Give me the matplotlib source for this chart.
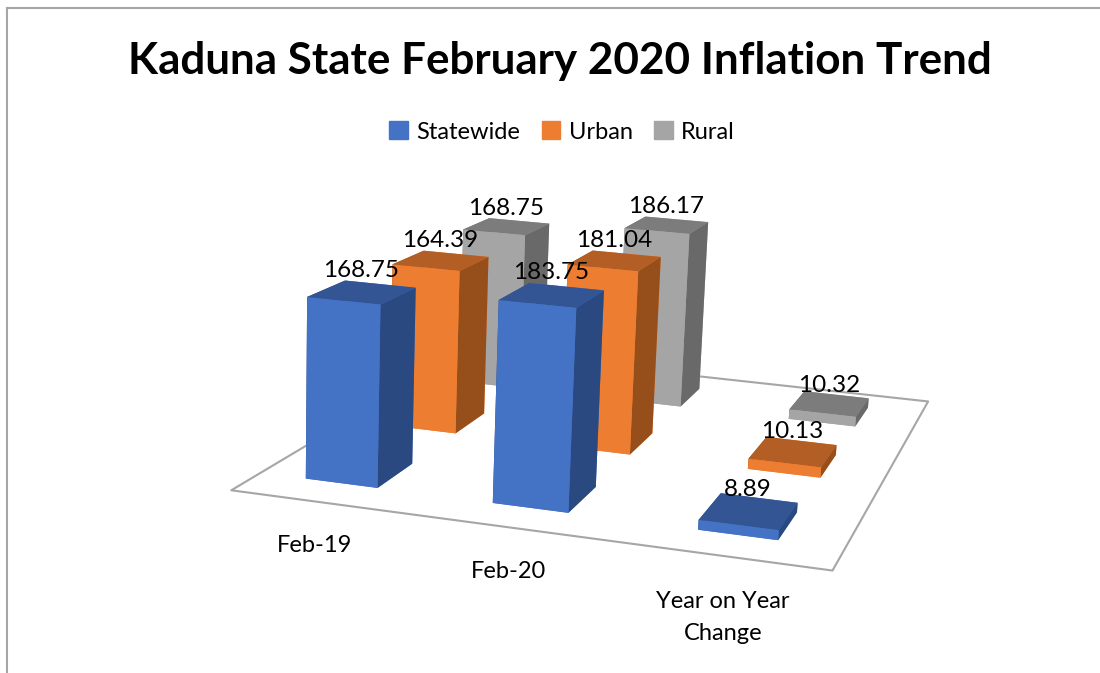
import matplotlib
matplotlib.use("Agg")
import matplotlib.pyplot as plt
from matplotlib.lines import Line2D
from matplotlib.patches import Patch
from mpl_toolkits.mplot3d.art3d import Poly3DCollection

plt.rcParams['font.family'] = ['Lato', 'DejaVu Sans']

categories = ["Feb-19", "Feb-20", "Year on Year\nChange"]
series = ["Statewide", "Urban", "Rural"]
statewide = [168.75, 183.75, 8.89]
urban = [164.39, 181.04, 10.13]
rural = [168.75, 186.17, 10.32]

# front, top, side
colors = {
    "Statewide": ("#4472C4", "#335593", "#2A4980"),
    "Urban": ("#ED7D31", "#B25E24", "#964F1B"),
    "Rural": ("#A5A5A5", "#7C7C7C", "#696969"),
}
values = {"Statewide": statewide, "Urban": urban, "Rural": rural}

fig = plt.figure(figsize=(11, 6.73), dpi=100)
ax = fig.add_axes([-0.028, -0.2486, 1.16, 1.44], projection='3d', computed_zorder=False)
ax.set_axis_off()
ax.set_proj_type('persp', focal_length=0.38)
ax.view_init(elev=13, azim=-74.5, roll=-2.5)
ax.set_xlim(0, 3)
ax.set_ylim(0, 3)
ax.set_zlim(0, 200)
ax.set_box_aspect((3, 3.3, 1.11), zoom=0.845)

floor = Poly3DCollection([[(0, 0, 0), (3, 0, 0), (3, 3, 0), (0, 3, 0)]],
                         facecolor='white', edgecolor='#A6A6A6', linewidth=1.5, zorder=1)
ax.add_collection3d(floor)

w = 0.39
d = 0.42
bar_x = [0.45, 1.45, 2.49]
z = 2
for j in [2, 1, 0]:
    name = series[j]
    front, top, side = colors[name]
    for i in range(3):
        x0 = bar_x[i] - w / 2
        y0 = j + 0.5 - d / 2
        h = values[name][i]
        ax.bar3d(x0, y0, 0, w, d, h, shade=False,
                 color=[front, top, front, front, side, side], zorder=z)
        z += 1

for j in range(3):
    name = series[j]
    for i in range(3):
        ax.text(bar_x[i] - 0.01, j + 0.5, values[name][i] + 20, f"{values[name][i]:.2f}",
                ha='center', va='center', fontsize=17.5, color='black', zorder=50)

# category labels sit off the bar centres in the original
label_x = [0.66, 1.61, 2.60]
for i, c in enumerate(categories):
    ax.text(label_x[i], -0.42, 0, c, ha='center', va='top', fontsize=17, color='black',
            zorder=50, linespacing=1.65)

fig.text(0.509, 0.909, "Kaduna State February 2020 Inflation Trend", ha='center', va='center',
         fontsize=31.7, fontweight='bold', color='black')

handles = [Patch(color=colors[s][0], label=s) for s in series]
fig.legend(handles=handles, loc='center', bbox_to_anchor=(0.511, 0.804), ncols=3, frameon=False,
           fontsize=17, handlelength=0.8, handleheight=0.8, handletextpad=0.35, columnspacing=0.9)

fig.add_artist(Line2D([7 / 1100, 7 / 1100], [0, 1 - 8 / 673], color='#A6A6A6', linewidth=1.5))
fig.add_artist(Line2D([7 / 1100, 1], [1 - 8 / 673, 1 - 8 / 673], color='#A6A6A6', linewidth=1.5))

fig.savefig("out.png", dpi=100)
